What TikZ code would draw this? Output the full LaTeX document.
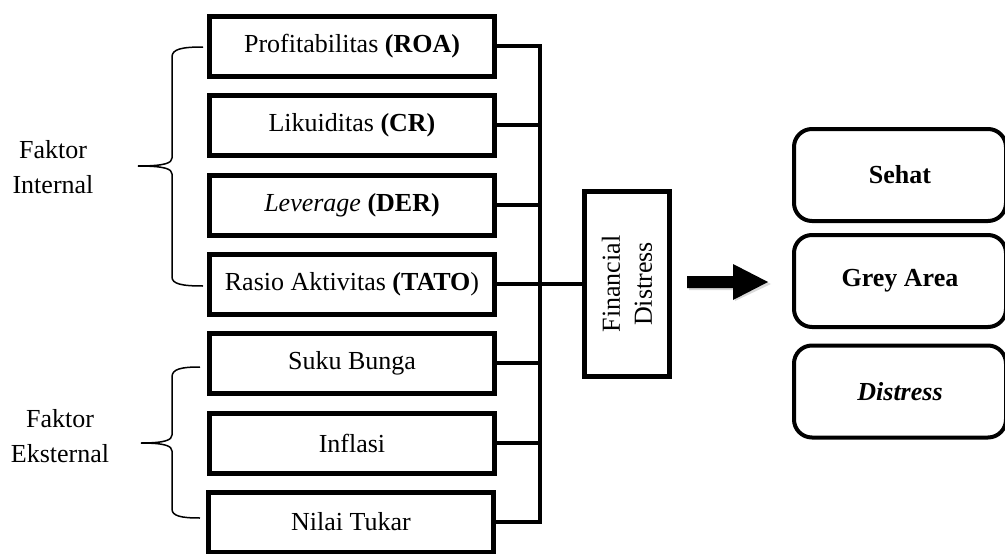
\documentclass[tikz,border=0pt]{standalone}
\usepackage{fontspec}
\setmainfont{Liberation Serif}[BoldFont={Liberation Serif Bold}, ItalicFont={Liberation Serif Italic}, BoldItalicFont={Liberation Serif Bold Italic}]
\begin{document}
\begin{tikzpicture}[x=1pt,y=-1pt,
  every node/.style={font=\fontsize{26}{31}\selectfont},
  lbox/.style={draw, line width=5pt, minimum width=285pt, minimum height=60pt, inner sep=0pt},
  fdbox/.style={draw, line width=4.5pt, minimum width=85pt, minimum height=185pt, inner sep=0pt},
  rbox/.style={draw, line width=4pt, rounded corners=18pt, minimum width=212pt, minimum height=92pt, inner sep=0pt},
  conn/.style={line width=4.5pt, line join=miter},
  brace/.style={line width=1.5pt},
  lbl/.style={align=center, font=\fontsize{26}{35}\selectfont}]
\useasboundingbox (0,0) rectangle (1005,554);
% left boxes
\node[lbox] (b1) at (352,46) {Profitabilitas \textbf{(ROA)}};
\node[lbox] (b2) at (352,125) {Likuiditas \textbf{(CR)}};
\node[lbox] (b3) at (352,205) {\textit{Leverage} \textbf{(DER)}};
\node[lbox] (b4) at (352,284) {Rasio Aktivitas \textbf{(TATO})};
\node[lbox] (b5) at (352,363) {Suku Bunga};
\node[lbox] (b6) at (352,443) {Inflasi};
\node[lbox] (b7) at (351,522) {Nilai Tukar};
% financial distress
\node[fdbox] (fd) at (627,284) {};
\node[rotate=90, align=center, font=\fontsize{26}{32}\selectfont] (fdt) at (fd.center) {Financial\\Distress};
% bus
\coordinate (bus) at (540,0);
\draw[conn] (b1.east) -| (b7.east -| bus) -- (b7.east);
\draw[conn] (b2.east) -- (b2.east -| bus);
\draw[conn] (b3.east) -- (b3.east -| bus);
\draw[conn] (b4.east) -- (fd.west);
\draw[conn] (b5.east) -- (b5.east -| bus);
\draw[conn] (b6.east) -- (b6.east -| bus);
% arrow
\fill[gray, opacity=0.3] (689,278) -- (735,278) -- (735,267) -- (771,284) -- (735,301) -- (735,290) -- (689,290) -- cycle;
\fill[black] (687,276) -- (733,276) -- (733,264) -- (768,282) -- (733,300) -- (733,288) -- (687,288) -- cycle;
% right boxes
\node[rbox] (s) at (900,175) {\textbf{Sehat}};
\node[rbox] (g) at (900,281) {\textbf{Grey Area}};
\node[rbox] (d) at (900,391.5) {\textbf{\textit{Distress}}};
% braces
\draw[brace] (203,47) .. controls (182,47) and (172,49) .. (172,57) -- (172,158)
  .. controls (172,163) and (165,166) .. (138,166)
  .. controls (165,166) and (172,169) .. (172,174) -- (172,277)
  .. controls (172,284) and (182,286) .. (203,286);
\draw[brace] (200,367) .. controls (181,367) and (172,369) .. (172,377) -- (172,435)
  .. controls (172,440) and (165,443) .. (141,443)
  .. controls (165,443) and (172,446) .. (172,451) -- (172,509)
  .. controls (172,516) and (181,518) .. (200,518);
\node[lbl] (fi) at (53,167) {Faktor\\Internal};
\node[lbl] (fe) at (60,436) {Faktor\\Eksternal};
\end{tikzpicture}
\end{document}
